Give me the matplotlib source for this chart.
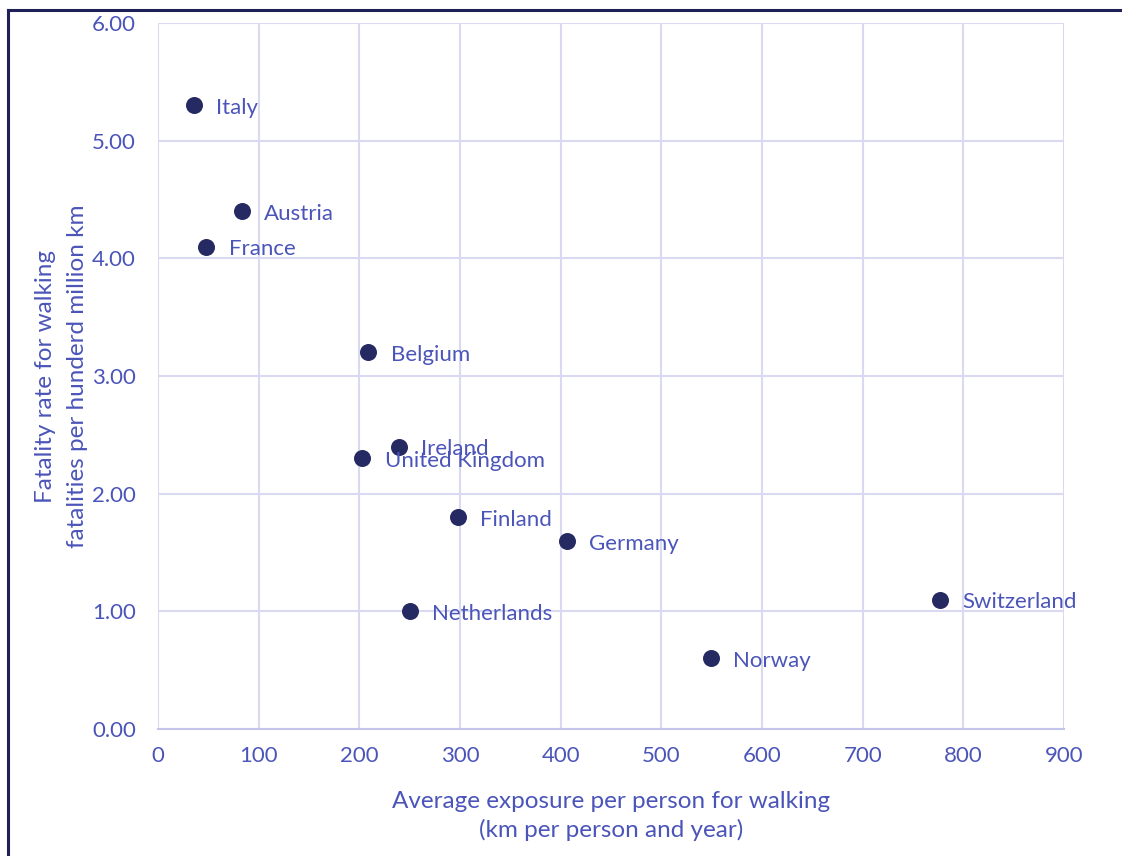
import matplotlib
matplotlib.use("Agg")
import matplotlib.pyplot as plt
from matplotlib.lines import Line2D

countries = ["Italy", "Austria", "France", "Belgium", "Ireland", "United Kingdom",
             "Finland", "Germany", "Netherlands", "Norway", "Switzerland"]
exposure = [36, 83, 48, 209, 239, 203, 298, 406, 250, 549, 777]
fatality = [5.3, 4.4, 4.1, 3.2, 2.4, 2.3, 1.8, 1.6, 1.0, 0.6, 1.1]
x_ticks = [0, 100, 200, 300, 400, 500, 600, 700, 800, 900]
y_ticks = [0, 1, 2, 3, 4, 5, 6]

plt.rcParams['font.family'] = ['Lato', 'DejaVu Sans']
text_c = "#4b55b9"
marker_c = "#262a62"
grid_c = "#d9d9f1"

fig = plt.figure(figsize=(11.22, 8.56), dpi=100)
ax = fig.add_axes([158/1122, 1-729/856, (1064-158)/1122, (729-23)/856])

ax.scatter(exposure, fatality, s=150, color=marker_c, zorder=3, linewidths=0)
for c, x, y in zip(countries, exposure, fatality):
    ax.annotate(c, (x, y), xytext=(16, -2), textcoords="offset points",
                color=text_c, fontsize=16, va="center", ha="left", zorder=4)

ax.set_xlim(0, 900)
ax.set_ylim(0, 6)
ax.set_xticks(x_ticks)
ax.set_yticks(y_ticks)
ax.set_yticklabels([f"{v:.2f}" for v in y_ticks])
ax.grid(True, color=grid_c, linewidth=1.5, zorder=0)
ax.set_axisbelow(True)
for s in ["top", "right", "left"]:
    ax.spines[s].set_visible(False)
ax.spines["bottom"].set_color("#c3c6ea")
ax.spines["bottom"].set_linewidth(1.5)
ax.tick_params(length=0, colors=text_c, labelsize=16, pad=12)
ax.tick_params(axis="y", pad=16)

ax.set_xlabel("Average exposure per person for walking\n(km per person and year)",
              color=text_c, fontsize=17.5, labelpad=18, linespacing=1.4)
ax.set_ylabel("Fatality rate for walking\nfatalities per hunderd million km",
              color=text_c, fontsize=17.5, labelpad=3, linespacing=1.65)

# outer chart border (partially visible)
fig.add_artist(Line2D([8/1122, 8/1122], [0, 1-10/856], transform=fig.transFigure,
                      color="#1f2058", linewidth=2.2))
fig.add_artist(Line2D([8/1122, 1], [1-10/856, 1-10/856], transform=fig.transFigure,
                      color="#1f2058", linewidth=2.2))

fig.savefig("out.png", dpi=100, facecolor="white")
